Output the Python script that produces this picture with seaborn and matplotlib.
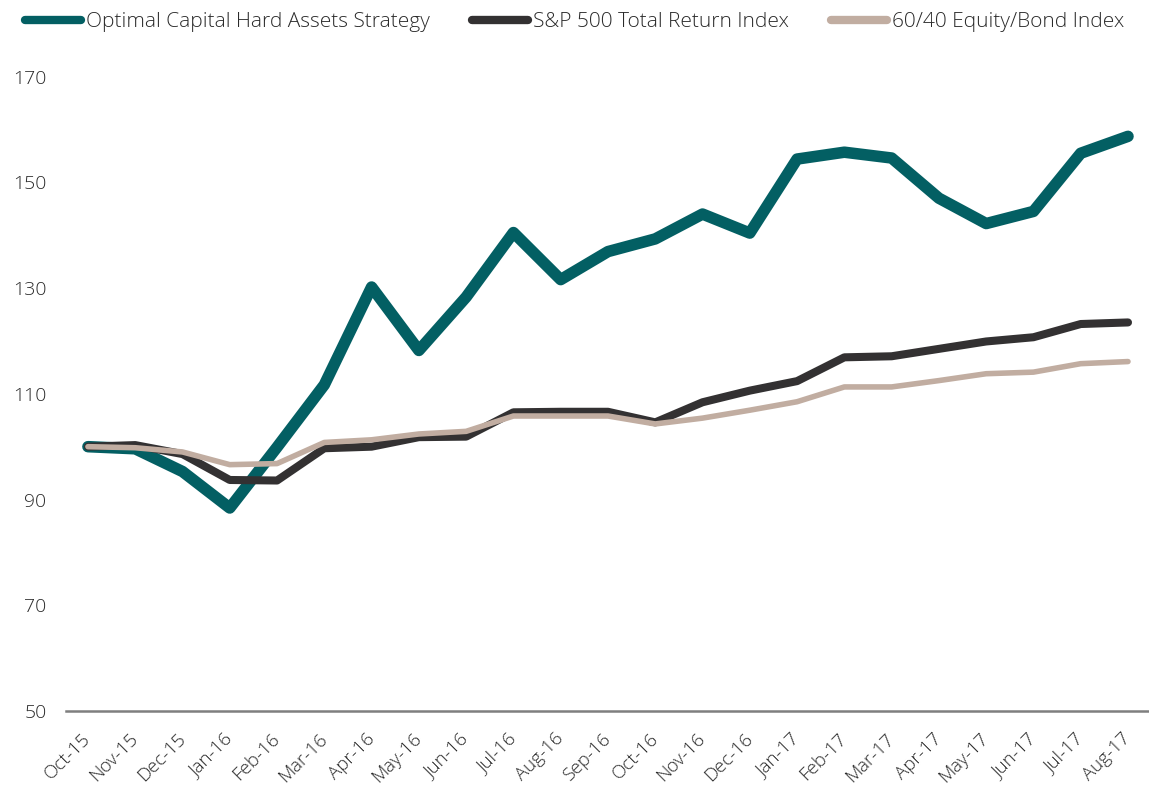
import matplotlib
matplotlib.use("Agg")
import matplotlib.pyplot as plt
import seaborn as sns
import pandas as pd
from matplotlib.lines import Line2D

months = ["Oct-15", "Nov-15", "Dec-15", "Jan-16", "Feb-16", "Mar-16", "Apr-16", "May-16",
          "Jun-16", "Jul-16", "Aug-16", "Sep-16", "Oct-16", "Nov-16", "Dec-16", "Jan-17",
          "Feb-17", "Mar-17", "Apr-17", "May-17", "Jun-17", "Jul-17", "Aug-17"]

hard_assets = [100.0, 99.6, 95.3, 88.4, 99.9, 111.7, 130.2, 118.2, 128.3, 140.5, 131.6, 136.9,
               139.3, 144.0, 140.4, 154.4, 155.7, 154.6, 147.0, 142.2, 144.5, 155.5, 158.7]
sp500 = [100.0, 100.3, 98.6, 93.7, 93.6, 99.7, 100.0, 101.8, 101.9, 106.5, 106.6, 106.6,
         104.6, 108.4, 110.6, 112.4, 116.9, 117.1, 118.5, 119.9, 120.7, 123.2, 123.5]
sixty_forty = [100.0, 99.8, 99.0, 96.6, 96.8, 100.8, 101.3, 102.4, 102.9, 105.8, 105.8, 105.8,
               104.3, 105.4, 106.9, 108.5, 111.3, 111.3, 112.5, 113.8, 114.1, 115.7, 116.1]

series_names = ["Optimal Capital Hard Assets Strategy", "S&P 500 Total Return Index",
                "60/40 Equity/Bond Index"]
colors = ["#035F63", "#333132", "#C1ADA1"]
widths = [8.3, 5.8, 4.0]
yticks = [50, 70, 90, 110, 130, 150, 170]

sns.set_theme(style="white")
plt.rcParams["font.family"] = ["Open Sans", "DejaVu Sans"]
text_color = "#2a2a2a"

fig = plt.figure(figsize=(11.49, 7.86), dpi=100)
ax = fig.add_axes([0.0574, 0.0954, 0.9426, 0.8206])

for name, vals, c, w in zip(series_names, [hard_assets, sp500, sixty_forty], colors, widths):
    df = pd.DataFrame({"month": months, "value": vals})
    sns.lineplot(data=df, x="month", y="value", ax=ax, color=c, linewidth=w, sort=False)
for ln in ax.get_lines():
    ln.set_solid_capstyle("round")

ax.set_xlim(-0.465, 22.444)
ax.set_ylim(50, 172)
ax.set_yticks(yticks)
ax.set_yticklabels([str(v) for v in yticks], fontsize=14, color=text_color, fontweight="light")
ax.set_xticks(range(len(months)))
ax.set_xticklabels(months, rotation=45, ha="right", va="center", rotation_mode="anchor",
                   fontsize=13.5, color=text_color, fontweight="light")
ax.tick_params(axis="both", length=0)
ax.tick_params(axis="y", pad=14)
ax.tick_params(axis="x", pad=18)
ax.set_xlabel("")
ax.set_ylabel("")
for s in ["top", "right", "left"]:
    ax.spines[s].set_visible(False)
ax.spines["bottom"].set_color("#7f7f7f")
ax.spines["bottom"].set_linewidth(1.8)

handles = [Line2D([0], [0], color=c, linewidth=6, solid_capstyle="round") for c in colors]
fig.legend(handles, series_names, loc="center", bbox_to_anchor=(0.5, 1 - 22 / 786), ncol=3,
           frameon=False, prop={"size": 15, "weight": "light"}, handlelength=2.7,
           handletextpad=0.25, columnspacing=2.0, labelcolor=text_color)

fig.savefig("out.png", dpi=100, facecolor="white")
